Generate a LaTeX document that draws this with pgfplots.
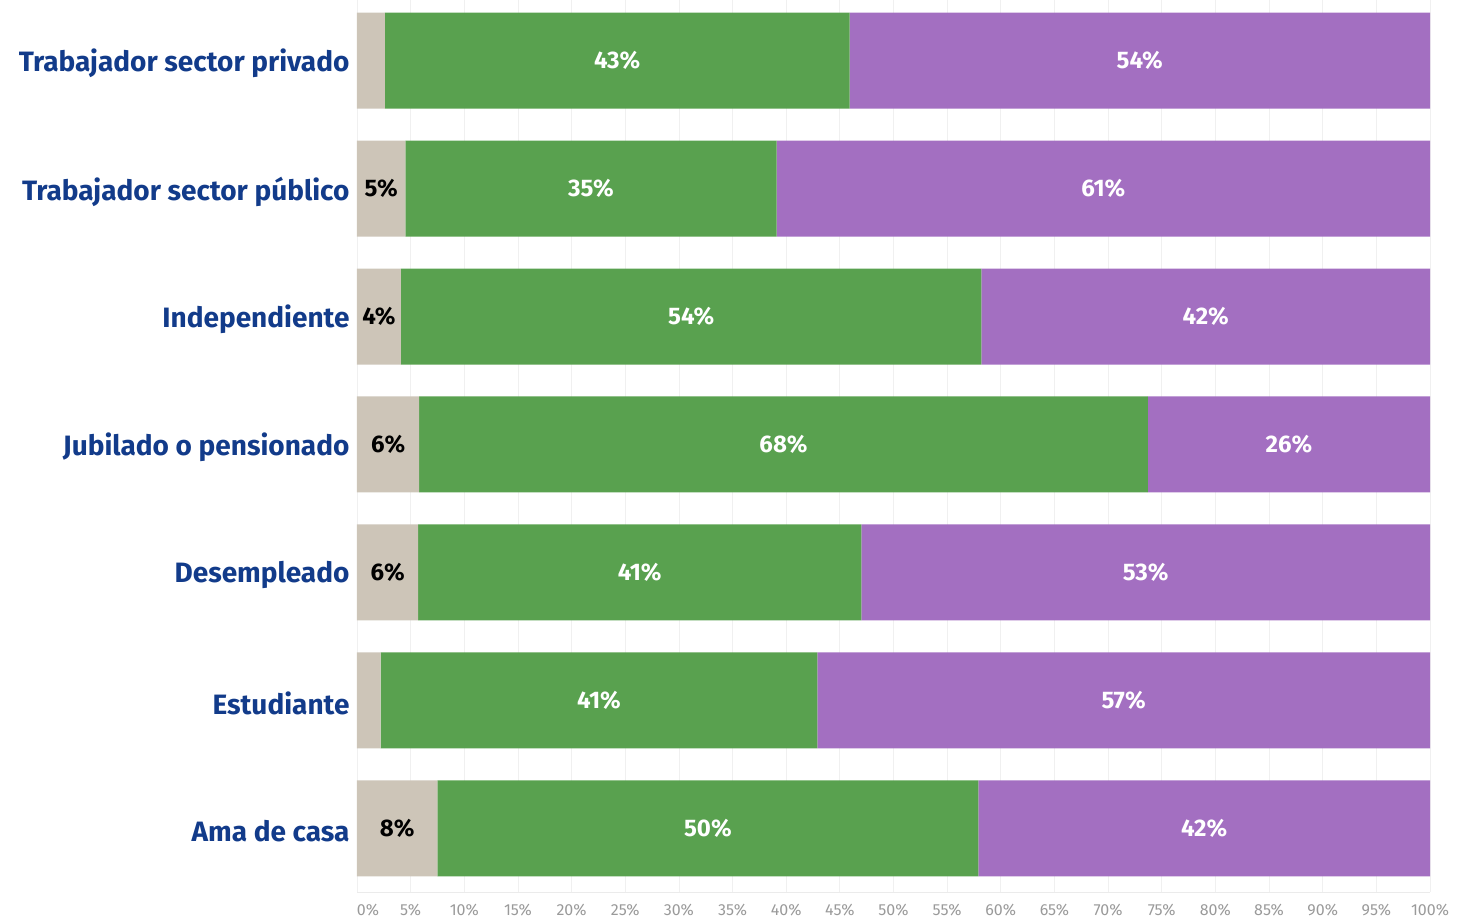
\documentclass[border=0pt]{standalone}
\usepackage{pgfplots}
\pgfplotsset{compat=1.18}
\usepackage{pgfplotstable}
\usepackage{fontspec}
\setmainfont{Fira Sans}
\definecolor{cgray}{HTML}{CDC5B8}
\definecolor{cgreen}{HTML}{59A14F}
\definecolor{cpurple}{HTML}{A36FC1}
\definecolor{cnavy}{HTML}{123B8A}
\definecolor{ctick}{HTML}{9A9A9A}

\pgfplotstableread{
y gray grayl green greenl purple purplel
0 2.6 {} 43.3 43\% 54.1 54\%
1 4.5 5\% 34.6 35\% 60.9 61\%
2 4.1 4\% 54.1 54\% 41.8 42\%
3 5.8 6\% 67.9 68\% 26.3 26\%
4 5.7 6\% 41.3 41\% 53.0 53\%
5 2.2 {} 40.7 41\% 57.1 57\%
6 7.5 8\% 50.4 50\% 42.1 42\%
}\data

\pgfplotsset{base/.style={scale only axis, width=1073pt, height=892pt,
  xmin=0, xmax=100, ymin=-0.47, ymax=6.5, y dir=reverse}}

\begin{document}
\begin{tikzpicture}
\begin{axis}[base, xbar stacked, bar width=96pt,
  axis x line*=bottom, axis y line*=left,
  y axis line style={draw=none}, x axis line style={draw=black!8},
  xtick={0,5,...,100},
  xticklabels={\hspace*{22pt}0\%,5\%,10\%,15\%,20\%,25\%,30\%,35\%,40\%,45\%,50\%,55\%,60\%,65\%,70\%,75\%,80\%,85\%,90\%,95\%,100\%},
  xmajorgrids, grid style={draw=black!6, line width=0.8pt},
  major tick length=0pt,
  ytick={0,...,6},
  yticklabels={Trabajador sector privado,Trabajador sector público,Independiente,Jubilado o pensionado,Desempleado,Estudiante,Ama de casa},
  y tick label style={font=\bfseries\fontsize{28}{32}\selectfont, text=cnavy, xshift=-4pt, yshift=-3pt},
  x tick label style={font=\fontsize{16}{18}\selectfont, text=ctick, yshift=-8pt},
]
\addplot[fill=cgray, draw=none] table[x=gray, y=y]{\data};
\addplot[fill=cgreen, draw=none] table[x=green, y=y]{\data};
\addplot[fill=cpurple, draw=none] table[x=purple, y=y]{\data};
\end{axis}
\begin{axis}[base, hide axis, point meta=explicit symbolic, nodes near coords,
  every node near coord/.append style={anchor=center, font=\bfseries\fontsize{24}{28}\selectfont}]
\addplot[draw=none, every node near coord/.append style={text=black}] table[x expr=\thisrow{gray}/2, y=y, meta=grayl]{\data};
\addplot[draw=none, every node near coord/.append style={text=white}] table[x expr=\thisrow{gray}+\thisrow{green}/2, y=y, meta=greenl]{\data};
\addplot[draw=none, every node near coord/.append style={text=white}] table[x expr=\thisrow{gray}+\thisrow{green}+\thisrow{purple}/2, y=y, meta=purplel]{\data};
\end{axis}
\path ([xshift=-357pt,yshift=-26pt]current axis.south west) rectangle ([xshift=38pt]current axis.north east);
\end{tikzpicture}
\end{document}
